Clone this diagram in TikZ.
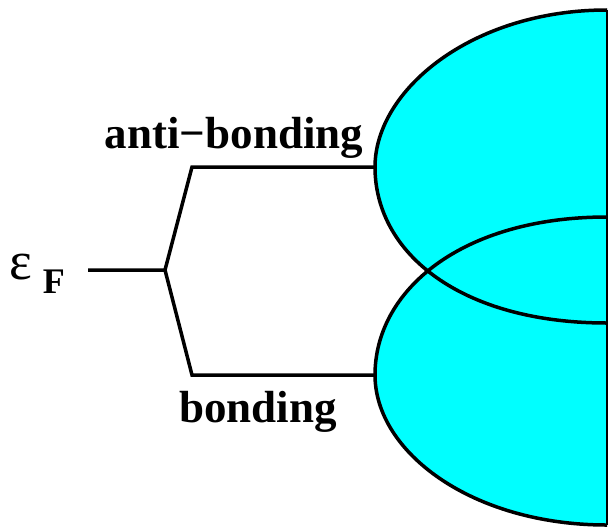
\documentclass[tikz,border=0pt]{standalone}
\usepackage{fontspec}
\setmainfont{Liberation Serif}
\usetikzlibrary{calc}
\definecolor{bandcyan}{RGB}{0,255,255}

\begin{document}
\begin{tikzpicture}[x=1pt,y=-1pt,line width=3.5pt,
  band/.style={fill=bandcyan},
  label/.style={font=\fontsize{45}{50}\selectfont\bfseries,anchor=base,inner sep=0pt}]
\useasboundingbox (0,0) rectangle (609,527);

% Bands
\fill[band] (607,10) .. controls (472,10) and (375,90) .. (375,167)
  .. controls (375,254) and (462,323) .. (607,323) -- cycle;
\fill[band] (607,217) .. controls (462,217) and (375,290) .. (375,375)
  .. controls (375,452) and (472,525) .. (607,525) -- cycle;
\draw (607,10) .. controls (472,10) and (375,90) .. (375,167)
  .. controls (375,254) and (462,323) .. (607,323);
\draw (607,217) .. controls (462,217) and (375,290) .. (375,375)
  .. controls (375,452) and (472,525) .. (607,525);
\draw[line width=2pt] (607,10) -- (607,525);

% Levels
\coordinate (fermi) at (88,270);
\coordinate (split) at (165,270);
\coordinate (abl) at (192,167);
\coordinate (abr) at (375,167);
\coordinate (bl) at (192,375);
\coordinate (br) at (375,375);
\draw (fermi) -- (split) -- (abl) -- (abr);
\draw (split) -- (bl) -- (br);

% Labels
\node[label] (antibonding) at (234,148) {anti−bonding};
\node[label] (bonding) at (258,422) {bonding};
\node[anchor=base west,inner sep=0pt,font=\fontsize{54}{58}\selectfont] (eps) at (8,279) {ε};
\node[anchor=base west,inner sep=0pt,font=\fontsize{36}{40}\selectfont\bfseries] (epsF) at (41,293) {F};
\end{tikzpicture}
\end{document}
